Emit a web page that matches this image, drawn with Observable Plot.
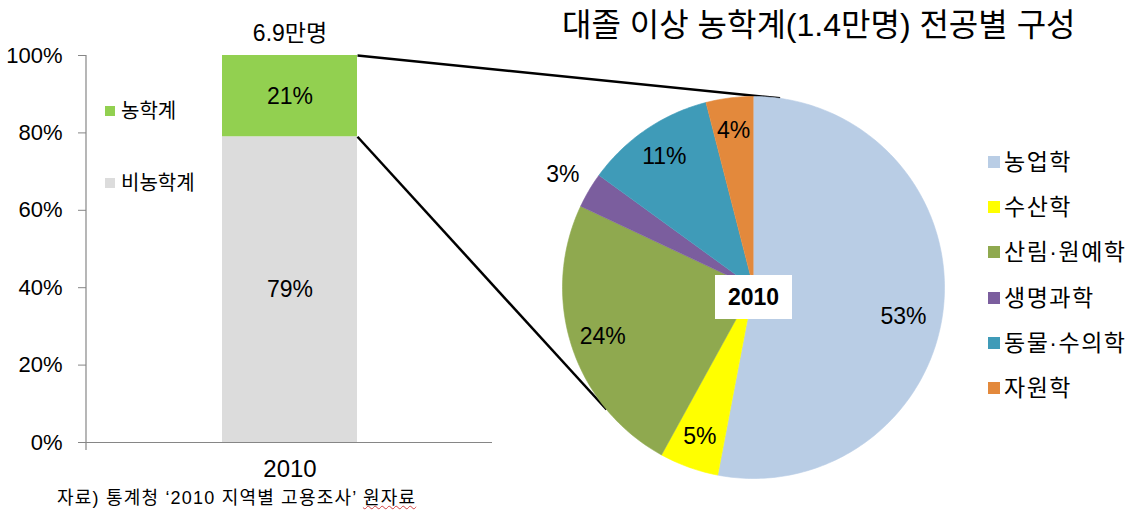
<!DOCTYPE html>
<html>
<head>
<meta charset="utf-8">
<script src="https://cdn.jsdelivr.net/npm/d3@7"></script>
<script src="https://cdn.jsdelivr.net/npm/@observablehq/plot@0.6"></script>
<style>
  html, body { margin: 0; padding: 0; background: #fff; }
  #wrap { position: relative; width: 1142px; height: 516px; overflow: hidden;
          font-family: "Liberation Sans", "Noto Sans CJK KR", sans-serif; color: #000; }
  #wrap svg { position: absolute; left: 0; top: 0; }
  .abs { position: absolute; white-space: nowrap; }
  .sw { position: absolute; }
</style>
</head>
<body>
<div id="wrap"></div>
<script>
// ---------------- data ----------------
const barYear = "2010";
const barGroups = ["비농학계", "농학계"];
const barShares = [0.79, 0.21];
const barColors = ["#dcdcdc", "#92d050"];
const barTotalLabel = "6.9만명";
const yTicks = [0, 0.2, 0.4, 0.6, 0.8, 1.0];

const pieTitle = "대졸 이상 농학계(1.4만명) 전공별 구성";
const pieCenterLabel = "2010";
const pieNames = ["농업학", "수산학", "산림·원예학", "생명과학", "동물·수의학", "자원학"];
const pieValues = [53, 5, 24, 3, 11, 4];
const pieColors = ["#b9cde5", "#ffff00", "#8fa94f", "#7b5e9e", "#3f9bb8", "#e3893c"];
const caption = "자료) 통계청 ‘2010 지역별 고용조사’ ";
const captionTail = "원자료";

// ---------------- layout ----------------
const W = 1142, H = 516;
const FONT = '"Liberation Sans", "Noto Sans CJK KR", sans-serif';
const wrap = document.getElementById("wrap");

// ---------------- bar chart ----------------
const barData = barGroups.map((g, i) => ({year: barYear, group: g, share: barShares[i]}));
const axisLineY = (index, scales, values, dim) => {
  const ns = "http://www.w3.org/2000/svg";
  const ln = document.createElementNS(ns, "line");
  ln.setAttribute("x1", dim.marginLeft); ln.setAttribute("x2", dim.marginLeft);
  ln.setAttribute("y1", dim.marginTop); ln.setAttribute("y2", dim.height - dim.marginBottom + 8);
  ln.setAttribute("stroke", "#868686"); ln.setAttribute("stroke-width", "1.2");
  return ln;
};
const barPlot = Plot.plot({
  width: 520, height: H,
  marginLeft: 86, marginRight: 28, marginTop: 55, marginBottom: 74,
  style: {fontFamily: FONT, fontSize: "23px", background: "transparent", color: "#000"},
  x: {domain: [barYear], padding: 0.5, axis: null, label: null},
  y: {domain: [0, 1], axis: null, label: null},
  color: {domain: barGroups, range: barColors},
  marks: [
    Plot.barY(barData, {x: "year", y: "share", fill: "group"}),
    Plot.text(barData, Plot.stackY({x: "year", y: "share", text: d => Math.round(d.share * 100) + "%", fill: "#000"})),
    Plot.text([barTotalLabel], {x: () => barYear, y: () => 1, text: d => d, dy: -22, fill: "#000"}),
    Plot.ruleY([0], {stroke: "#868686", strokeWidth: 1.2}),
    axisLineY,
    Plot.axisY({ticks: yTicks, tickFormat: d3.format(".0%"), tickSize: 8, tickPadding: 16,
                stroke: "#868686", fill: "#000", fontSize: 22, label: null}),
    Plot.axisX({tickSize: 0, tickPadding: 17, fill: "#000", fontSize: 24, label: null})
  ]
});
wrap.appendChild(barPlot);

// bar legend (농학계 on top)
[[1, 111], [0, 183]].forEach(([i, cy]) => {
  const sq = document.createElement("div");
  sq.className = "sw";
  Object.assign(sq.style, {left: "105px", top: (cy - 5) + "px", width: "10px", height: "10px", background: barColors[i]});
  wrap.appendChild(sq);
  const t = document.createElement("div");
  t.className = "abs";
  t.textContent = barGroups[i];
  Object.assign(t.style, {left: "121px", top: (cy - 14) + "px", fontSize: "20px", lineHeight: "28px"});
  wrap.appendChild(t);
});

// ---------------- pie chart ----------------
const cx = 753, cy = 287, R = 191;
const xOpts = {domain: [(0 - cx) / R, (W - cx) / R], range: [0, W]};
const yOpts = {domain: [(cy - H) / R, cy / R], range: [H, 0]};
const px = Plot.scale({x: {type: "linear", ...xOpts}});
const py = Plot.scale({y: {type: "linear", ...yOpts}});

const total = d3.sum(pieValues);
let acc = 0;
const slices = pieNames.map((name, i) => {
  const a0 = acc / total * 2 * Math.PI;
  acc += pieValues[i];
  const a1 = acc / total * 2 * Math.PI;
  return {name, value: pieValues[i], a0, a1};
});
const slicePts = [];
slices.forEach(s => {
  slicePts.push({name: s.name, u: 0, v: 0});
  const n = Math.max(2, Math.ceil((s.a1 - s.a0) / (Math.PI / 180)));
  for (let k = 0; k <= n; k++) {
    const a = s.a0 + (s.a1 - s.a0) * k / n;
    slicePts.push({name: s.name, u: Math.sin(a), v: Math.cos(a)});
  }
});
const labels = slices.map(s => {
  const m = (s.a0 + s.a1) / 2;
  const share = s.value / total;
  const r = share < 0.035 ? 1.16 : share > 0.5 ? 0.8 : 0.83;
  const a = share > 0.5 ? m + 0.1 : m;
  return {u: r * Math.sin(a), v: r * Math.cos(a), text: s.value + "%"};
});

// connectors from the bar edges to the pie
const bx = barPlot.scale("x"), by = barPlot.scale("y");
const barRight = bx.apply(barYear) + bx.bandwidth;
const connAngles = [8, 230.3].map(d => d * Math.PI / 180);
const conns = [1, barShares[0]].map((yv, i) => ({
  u1: px.invert(barRight), v1: py.invert(by.apply(yv)),
  u2: Math.sin(connAngles[i]), v2: Math.cos(connAngles[i])
}));

const piePlot = Plot.plot({
  width: W, height: H, margin: 0,
  style: {fontFamily: FONT, fontSize: "23px", background: "transparent", color: "#000"},
  x: {...xOpts, axis: null},
  y: {...yOpts, axis: null},
  color: {domain: pieNames, range: pieColors},
  marks: [
    Plot.link(conns, {x1: "u1", y1: "v1", x2: "u2", y2: "v2", stroke: "#000", strokeWidth: 2.5}),
    Plot.line(slicePts, {x: "u", y: "v", z: "name", fill: "name", stroke: "name", strokeWidth: 0.6}),
    Plot.text(labels, {x: "u", y: "v", text: "text", fill: "#000"})
  ]
});
wrap.appendChild(piePlot);

// center label box
const box = document.createElement("div");
box.className = "abs";
box.textContent = pieCenterLabel;
Object.assign(box.style, {left: "715px", top: "275px", width: "77px", height: "44px", background: "#fff",
  fontWeight: "bold", fontSize: "23px", lineHeight: "44px", textAlign: "center"});
wrap.appendChild(box);

// pie legend
pieNames.forEach((name, i) => {
  const yc = 162 + i * 45.2;
  const sq = document.createElement("div");
  sq.className = "sw";
  Object.assign(sq.style, {left: "988px", top: (yc - 6) + "px", width: "12px", height: "12px", background: pieColors[i]});
  wrap.appendChild(sq);
  const t = document.createElement("div");
  t.className = "abs";
  t.textContent = name;
  Object.assign(t.style, {left: "1004px", top: (yc - 16) + "px", fontSize: "23px", lineHeight: "32px", letterSpacing: "1.5px"});
  wrap.appendChild(t);
});

// title
const title = document.createElement("div");
title.className = "abs";
title.textContent = pieTitle;
Object.assign(title.style, {left: "562px", top: "3px", fontSize: "32px", lineHeight: "44px"});
wrap.appendChild(title);

// caption
const cap = document.createElement("div");
cap.className = "abs";
cap.appendChild(document.createTextNode(caption));
const tail = document.createElement("span");
tail.textContent = captionTail;
tail.style.textDecoration = "underline wavy #d04040";
tail.style.textDecorationThickness = "1px";
cap.appendChild(tail);
Object.assign(cap.style, {left: "57px", top: "485px", fontSize: "18px", lineHeight: "26px", letterSpacing: "1.2px"});
wrap.appendChild(cap);
</script>
</body>
</html>
